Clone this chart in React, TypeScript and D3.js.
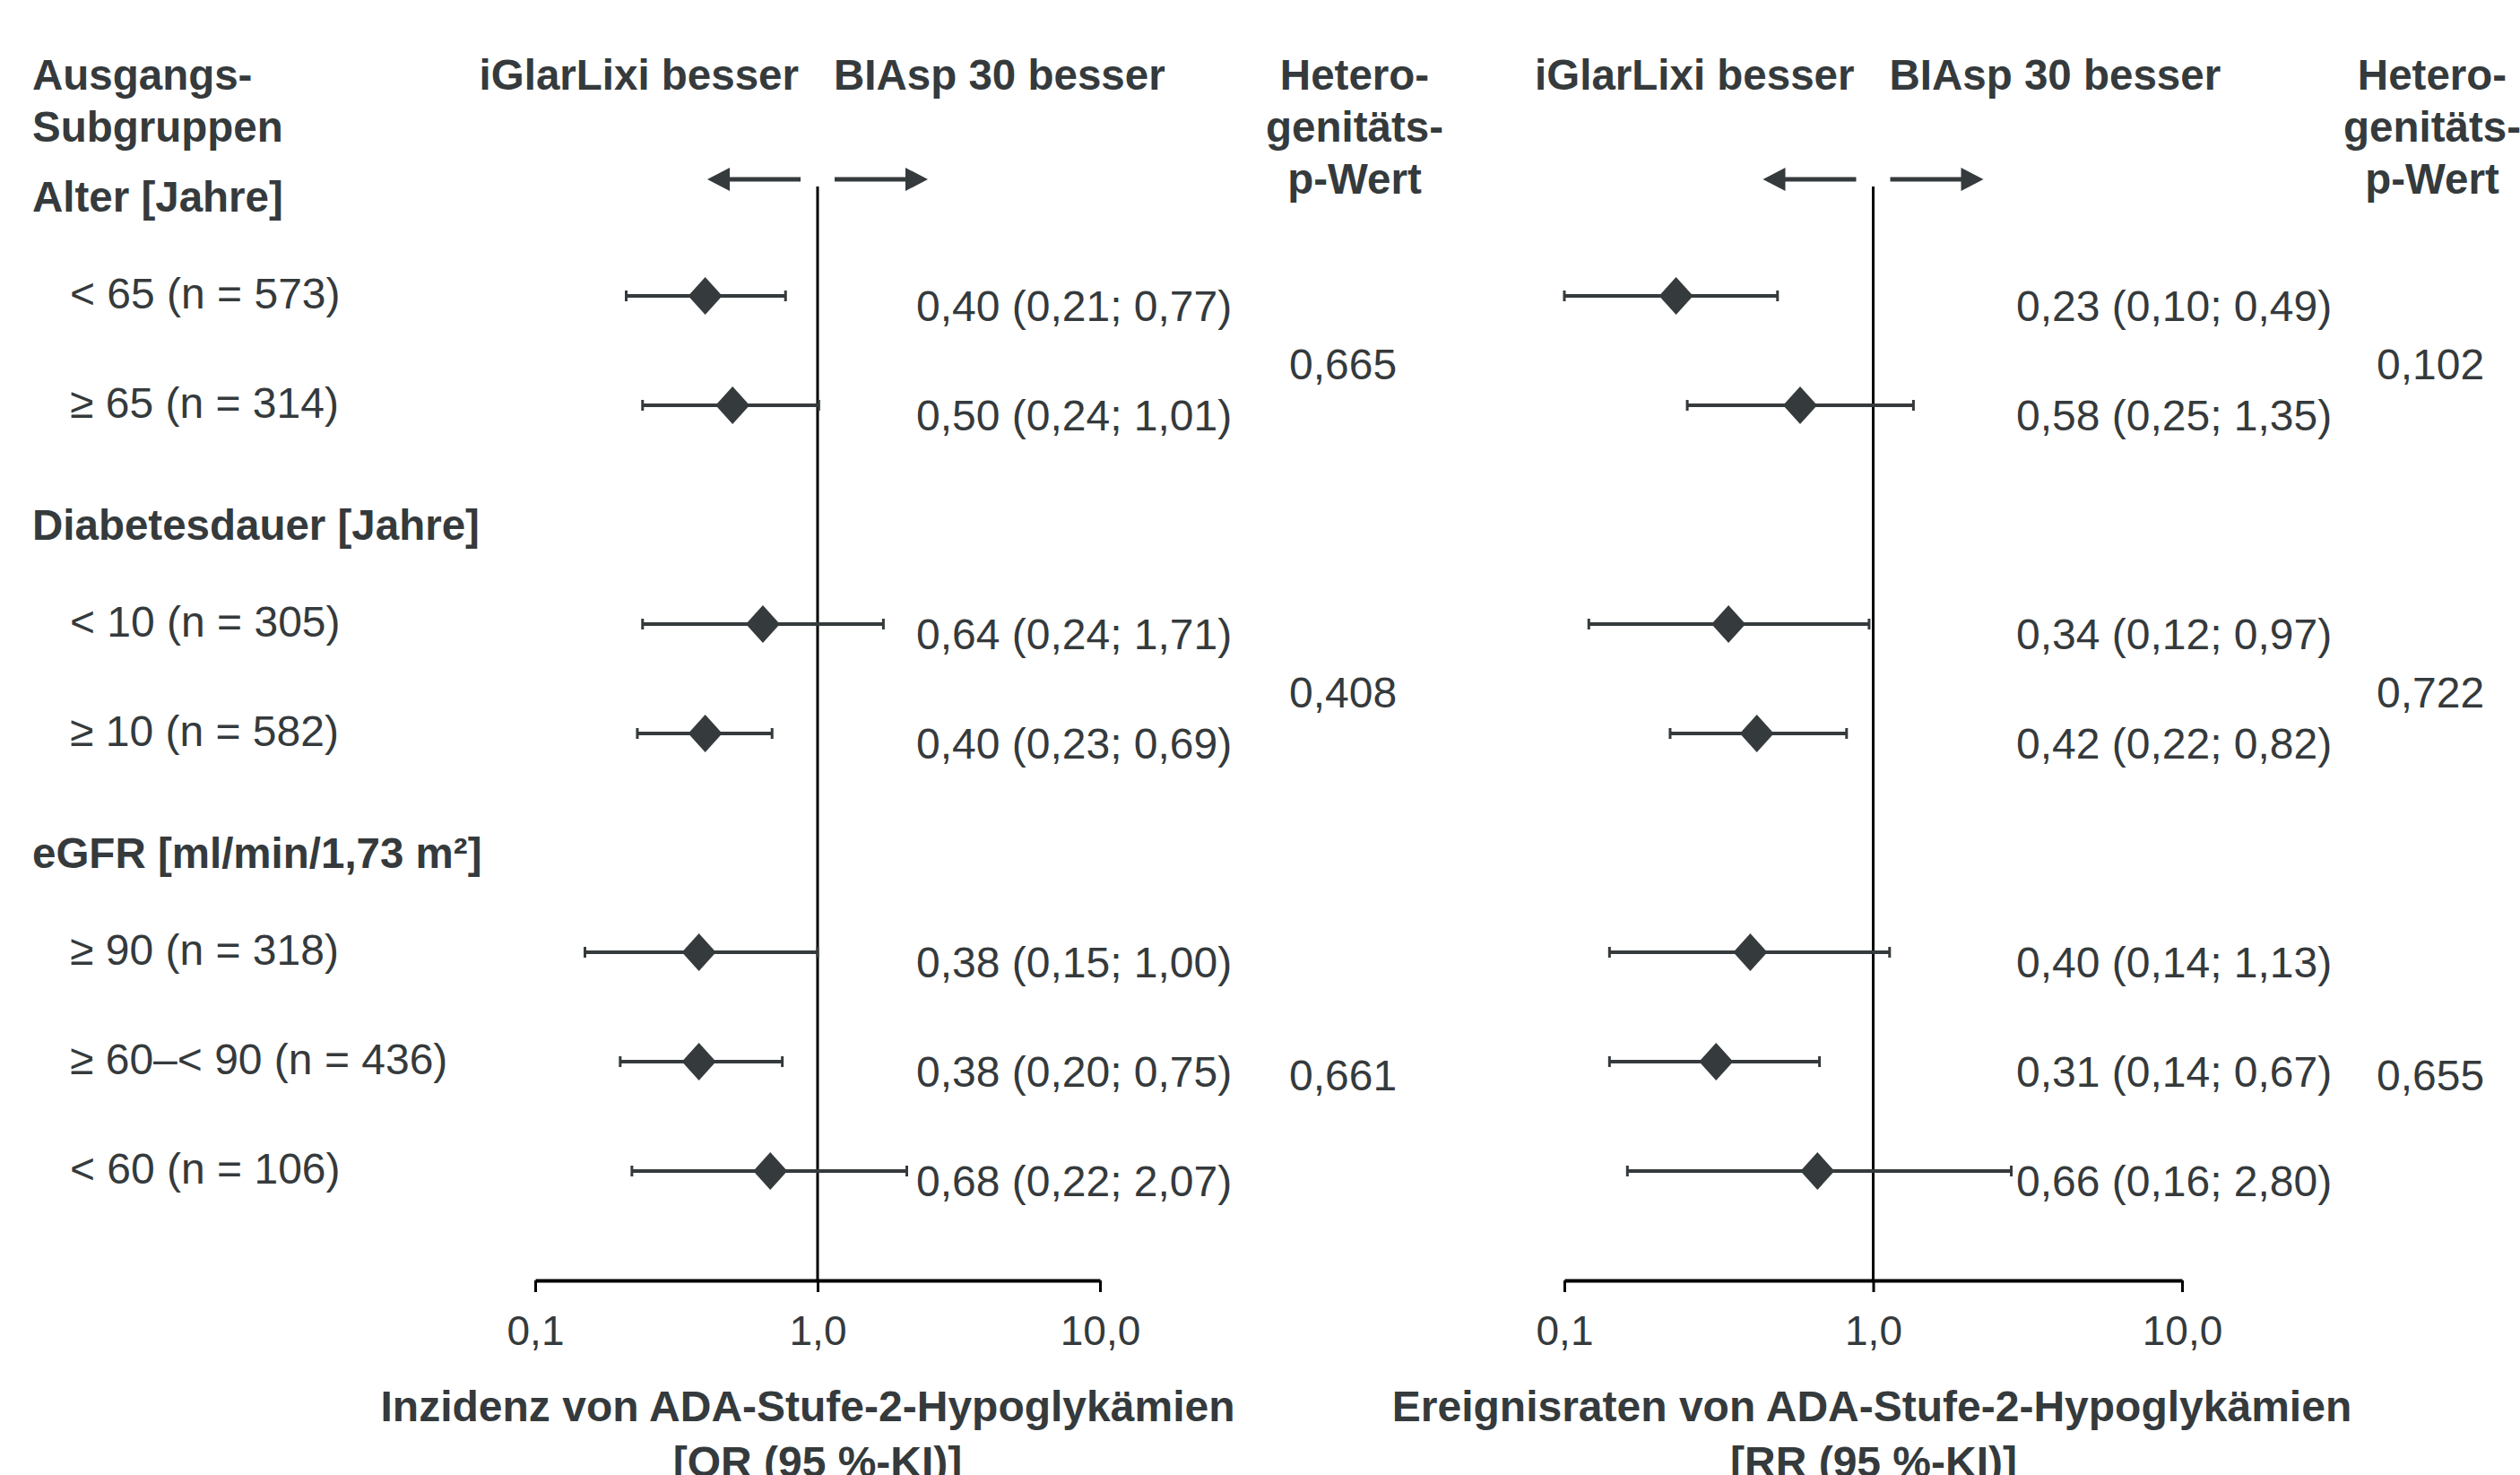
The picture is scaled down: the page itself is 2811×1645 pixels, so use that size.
import React, { useEffect, useRef } from 'react';
import * as d3 from 'd3';

// subgroup rows
const groupTitles = ['Alter [Jahre]', 'Diabetesdauer [Jahre]', 'eGFR [ml/min/1,73 m²]'];
const subgroups = [
  '< 65 (n = 573)',
  '≥ 65 (n = 314)',
  '< 10 (n = 305)',
  '≥ 10 (n = 582)',
  '≥ 90 (n = 318)',
  '≥ 60–< 90 (n = 436)',
  '< 60 (n = 106)'
];
const groupOf = [0, 0, 1, 1, 2, 2, 2];

// left panel: incidence, OR
const orEst = [0.40, 0.50, 0.64, 0.40, 0.38, 0.38, 0.68];
const orLow = [0.21, 0.24, 0.24, 0.23, 0.15, 0.20, 0.22];
const orHigh = [0.77, 1.01, 1.71, 0.69, 1.00, 0.75, 2.07];
const orP = ['0,665', '0,408', '0,661'];

// right panel: event rates, RR
const rrEst = [0.23, 0.58, 0.34, 0.42, 0.40, 0.31, 0.66];
const rrLow = [0.10, 0.25, 0.12, 0.22, 0.14, 0.14, 0.16];
const rrHigh = [0.49, 1.35, 0.97, 0.82, 1.13, 0.67, 2.80];
const rrP = ['0,102', '0,722', '0,655'];

const tickValues = [0.1, 1, 10];
const tickLabels = ['0,1', '1,0', '10,0'];

const W = 2811;
const H = 1645;
const INK = '#353a3c';
const FONT = '"Liberation Sans", Arial, sans-serif';

const fmt = (v: number) => v.toFixed(2).replace('.', ',');

const App = () => {
  const svgRef = useRef<SVGSVGElement>(null);

  useEffect(() => {
    const svg = d3.select(svgRef.current);
    svg.selectAll('*').remove();
    svg.style('font-family', FONT);

    // row slots: a header slot before each group
    const rowSlot: number[] = [];
    const headerSlot: number[] = [];
    let slot = -1;
    subgroups.forEach((_, i) => {
      if (i === 0 || groupOf[i] !== groupOf[i - 1]) {
        headerSlot.push(slot);
        slot++;
      }
      rowSlot.push(slot);
      slot++;
    });
    const y = d3.scaleLinear().domain([0, 8]).range([330, 1306]);
    const axisY = 1428;

    // left column
    const hdr = svg.append('g').attr('fill', INK).attr('font-size', 48);
    hdr.append('text').attr('x', 36).attr('y', 100).attr('font-size', 47.5).attr('font-weight', 'bold').text('Ausgangs-');
    hdr.append('text').attr('x', 36).attr('y', 158).attr('font-size', 47.5).attr('font-weight', 'bold').text('Subgruppen');
    groupTitles.forEach((t, gi) => {
      hdr.append('text')
        .attr('x', 36)
        .attr('y', y(headerSlot[gi]) + 11)
        .attr('dy', '0.35em')
        .attr('font-size', 47.5)
        .attr('font-weight', 'bold')
        .text(t);
    });
    subgroups.forEach((s, i) => {
      hdr.append('text')
        .attr('x', 78)
        .attr('y', y(rowSlot[i]) - 3)
        .attr('dy', '0.35em')
        .text(s);
    });

    const panels = [
      { range: [597, 1227], est: orEst, low: orLow, high: orHigh, p: orP, valueX: 1022, pX: 1438, hetX: 1511,
        title: ['Inzidenz von ADA-Stufe-2-Hypoglykämien', '[OR (95 %-KI)]'], titleX: [901, 912] },
      { range: [1745, 2434], est: rrEst, low: rrLow, high: rrHigh, p: rrP, valueX: 2249, pX: 2651, hetX: 2713,
        title: ['Ereignisraten von ADA-Stufe-2-Hypoglykämien', '[RR (95 %-KI)]'], titleX: [2088, 2090] }
    ];

    panels.forEach(pn => {
      const x = d3.scaleLog().domain([0.1, 10]).range(pn.range);
      const ref = x(1);
      const g = svg.append('g');

      // headers
      g.append('text').attr('x', ref - 21).attr('y', 100).attr('text-anchor', 'end')
        .attr('font-size', 47.5).attr('font-weight', 'bold').attr('fill', INK).text('iGlarLixi besser');
      g.append('text').attr('x', ref + 18).attr('y', 100)
        .attr('font-size', 47.5).attr('font-weight', 'bold').attr('fill', INK).text('BIAsp 30 besser');
      ['Hetero-', 'genitäts-', 'p-Wert'].forEach((t, k) => {
        g.append('text').attr('x', pn.hetX).attr('y', 100 + k * 58).attr('text-anchor', 'middle')
          .attr('font-size', 47.5).attr('font-weight', 'bold').attr('fill', INK).text(t);
      });

      // arrows
      const ay = 200;
      g.append('path')
        .attr('d', `M${ref - 19},${ay - 2.5}H${ref - 98}V${ay - 13}L${ref - 123},${ay}L${ref - 98},${ay + 13}V${ay + 2.5}H${ref - 19}Z`)
        .attr('fill', INK);
      g.append('path')
        .attr('d', `M${ref + 19},${ay - 2.5}H${ref + 98}V${ay - 13}L${ref + 123},${ay}L${ref + 98},${ay + 13}V${ay + 2.5}H${ref + 19}Z`)
        .attr('fill', INK);

      // reference line
      g.append('line').attr('x1', ref).attr('x2', ref).attr('y1', 208).attr('y2', axisY)
        .attr('stroke', '#000').attr('stroke-width', 3);

      // axis
      const ax = g.append('g')
        .attr('transform', `translate(0,${axisY})`)
        .call(d3.axisBottom(x).tickValues(tickValues)
          .tickFormat((d, i) => tickLabels[i]).tickSize(13).tickSizeOuter(0));
      ax.select('.domain').attr('stroke', '#000').attr('stroke-width', 4);
      ax.selectAll('.tick line').attr('stroke', '#000').attr('stroke-width', 3);
      ax.selectAll('.tick text').attr('y', 72).attr('dy', 0)
        .attr('font-size', 46).attr('font-family', FONT).attr('fill', INK);

      // error bars and diamonds
      pn.est.forEach((e, i) => {
        const cy = y(rowSlot[i]);
        const x0 = x(pn.low[i]);
        const x1 = x(pn.high[i]);
        g.append('line').attr('x1', x0).attr('x2', x1).attr('y1', cy).attr('y2', cy)
          .attr('stroke', INK).attr('stroke-width', 4);
        [x0, x1].forEach(cx => {
          g.append('line').attr('x1', cx).attr('x2', cx).attr('y1', cy - 6).attr('y2', cy + 6)
            .attr('stroke', INK).attr('stroke-width', 3);
        });
        const cx = x(e);
        g.append('path')
          .attr('d', `M${cx},${cy - 21}L${cx + 19},${cy}L${cx},${cy + 21}L${cx - 19},${cy}Z`)
          .attr('fill', INK);

        g.append('text').attr('x', pn.valueX).attr('y', cy + 11).attr('dy', '0.35em')
          .attr('font-size', 48).attr('fill', INK)
          .text(`${fmt(e)} (${fmt(pn.low[i])}; ${fmt(pn.high[i])})`);
      });

      // heterogeneity p-values
      pn.p.forEach((pv, gi) => {
        const rows = rowSlot.filter((_, i) => groupOf[i] === gi).map(s => y(s));
        g.append('text').attr('x', pn.pX).attr('y', d3.mean(rows) + 15).attr('dy', '0.35em')
          .attr('font-size', 48).attr('fill', INK).text(pv);
      });

      // axis title
      pn.title.forEach((t, k) => {
        g.append('text').attr('x', pn.titleX[k]).attr('y', 1585 + k * 62).attr('text-anchor', 'middle')
          .attr('font-size', 48).attr('font-weight', 'bold').attr('fill', INK).text(t);
      });
    });
  }, []);

  return (
    <svg ref={svgRef} width={W} height={H}
      style={{ position: 'absolute', left: 0, top: 0, background: '#fff' }} />
  );
};

export default App;
